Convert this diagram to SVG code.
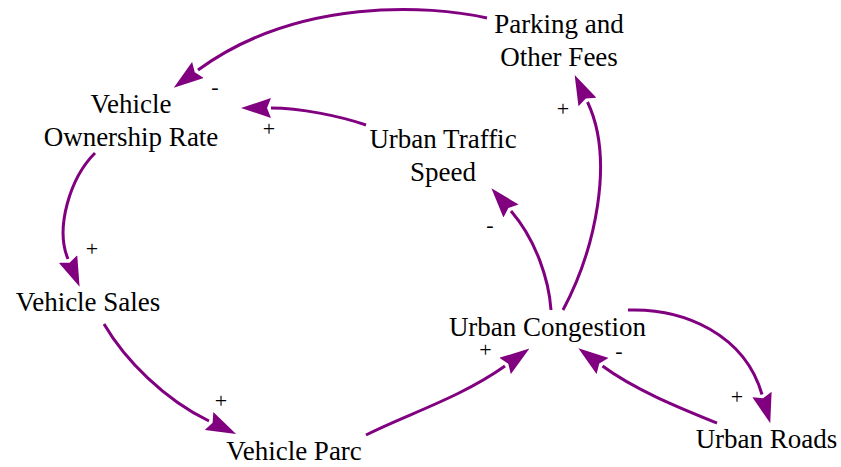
<svg xmlns="http://www.w3.org/2000/svg" width="841" height="467" viewBox="0 0 841 467">
<style>
.node{font-family:"Liberation Serif","Times New Roman",serif;font-size:27px;fill:#000;text-anchor:middle}
.pol{font-family:"Liberation Serif","Times New Roman",serif;font-size:22px;fill:#000;text-anchor:middle}
.link{fill:none;stroke:#800080;stroke-width:3;marker-end:url(#ah)}
</style>
<defs>
<marker id="ah" markerUnits="userSpaceOnUse" viewBox="0 0 30 20" markerWidth="30" markerHeight="20" refX="0" refY="10" orient="auto">
<path d="M0,0 L30,10 L0,20 L4,10 Z" fill="#800080"/>
</marker>
</defs>
<rect width="841" height="467" fill="#fff"/>
<g id="connectors">
<path class="link" d="M487,18 C430,5 298,-3 198,70"/>
<path class="link" d="M366,125 C340,116 300,108 271,108"/>
<path class="link" d="M95,153 C70,178 55,228 68,259"/>
<path class="link" d="M104,324 C125,360 165,400 209,421"/>
<path class="link" d="M366,435 C405,415 460,398 505,366"/>
<path class="link" d="M551,310 C549,280 536,240 511,211"/>
<path class="link" d="M563,310 C595,250 615,160 587.5,102"/>
<path class="link" d="M628,310 C685,308 745,335 762,394.5"/>
<path class="link" d="M717,423 C680,408 635,390 602.5,366"/>
<text class="pol" x="215" y="94">-</text>
<text class="pol" x="269" y="136">+</text>
<text class="pol" x="92" y="256">+</text>
<text class="pol" x="221" y="408">+</text>
<text class="pol" x="485.5" y="357">+</text>
<text class="pol" x="490" y="232">-</text>
<text class="pol" x="563" y="116">+</text>
<text class="pol" x="737" y="404">+</text>
<text class="pol" x="619" y="358">-</text>
</g>
<g id="parking-fees"><text class="node" x="559" y="33">Parking and</text><text class="node" x="559" y="66">Other Fees</text></g>
<g id="ownership-rate"><text class="node" x="131" y="113">Vehicle</text><text class="node" x="131" y="146">Ownership Rate</text></g>
<g id="traffic-speed"><text class="node" x="443" y="148">Urban Traffic</text><text class="node" x="443" y="181">Speed</text></g>
<g id="vehicle-sales"><text class="node" x="88" y="311">Vehicle Sales</text></g>
<g id="urban-congestion"><text class="node" x="547.5" y="336">Urban Congestion</text></g>
<g id="vehicle-parc"><text class="node" x="294" y="460">Vehicle Parc</text></g>
<g id="urban-roads"><text class="node" x="766.5" y="448">Urban Roads</text></g>
</svg>
